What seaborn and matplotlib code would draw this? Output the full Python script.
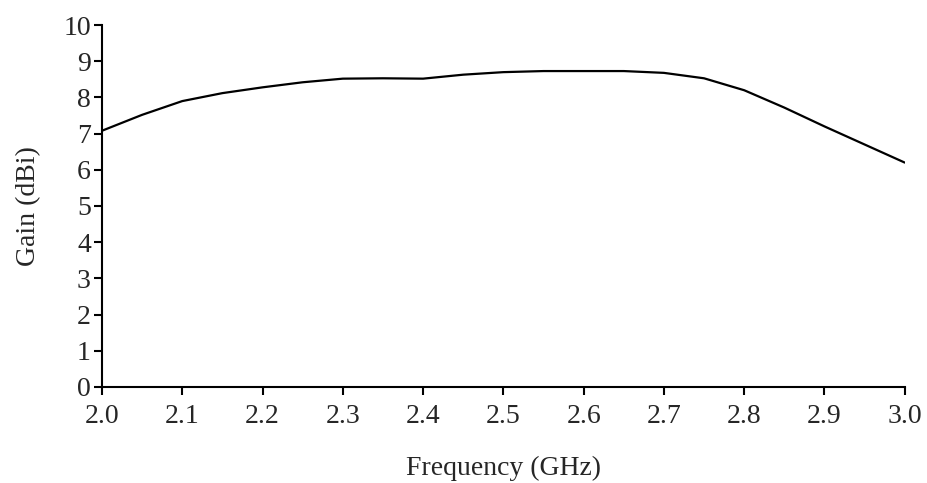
import seaborn as sns
import pandas as pd
import matplotlib.pyplot as plt

# gain vs frequency
freq = [2.00, 2.05, 2.10, 2.15, 2.20, 2.25, 2.30, 2.35, 2.40, 2.45, 2.50,
        2.55, 2.60, 2.65, 2.70, 2.75, 2.80, 2.85, 2.90, 2.95, 3.00]
gain = [7.08, 7.52, 7.90, 8.12, 8.28, 8.42, 8.52, 8.53, 8.52, 8.63, 8.70,
        8.73, 8.73, 8.73, 8.68, 8.53, 8.20, 7.72, 7.20, 6.70, 6.20]
xticks = [2.0, 2.1, 2.2, 2.3, 2.4, 2.5, 2.6, 2.7, 2.8, 2.9, 3.0]
yticks = list(range(0, 11))

df = pd.DataFrame({'Frequency': freq, 'Gain': gain})

sns.set_style('ticks')
plt.rcParams['font.family'] = ['Liberation Serif', 'DejaVu Serif']

fig = plt.figure(figsize=(9.27, 4.83), dpi=100)
ax = fig.add_axes([0.110, 0.199, 0.866, 0.749])
sns.lineplot(data=df, x='Frequency', y='Gain', ax=ax, color='black', linewidth=1.6)

ax.set_xlim(2.0, 3.0)
ax.set_ylim(0, 10)
ax.set_xticks(xticks)
ax.set_xticklabels([f'{t:.1f}' for t in xticks])
ax.set_yticks(yticks)
ax.tick_params(axis='both', labelsize=20, direction='out', length=6, width=1.5, color='black')
ax.tick_params(axis='x', pad=6)
ax.tick_params(axis='y', pad=2)
for s in ['left', 'bottom']:
    ax.spines[s].set_linewidth(1.5)
    ax.spines[s].set_color('black')
sns.despine(ax=ax)
ax.set_xlabel('Frequency (GHz)', fontsize=20, labelpad=20)
ax.set_ylabel('Gain (dBi)', fontsize=20, labelpad=16)

plt.savefig('out.png', dpi=100)
